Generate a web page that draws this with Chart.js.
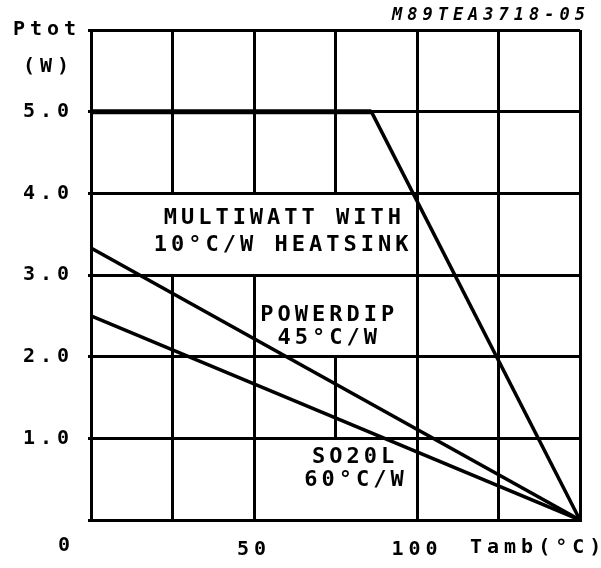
<!DOCTYPE html>
<html>
<head>
<meta charset="utf-8">
<script src="https://cdn.jsdelivr.net/npm/chart.js@4.4.0/dist/chart.umd.min.js"></script>
<style>
  html, body { margin: 0; padding: 0; background: #fff; }
</style>
</head>
<body>
<canvas id="chart" width="601" height="568"></canvas>
<script>
// ambient temperature (°C) / power (W) pairs for each curve
const multiwattT = [0, 86, 150];
const multiwattP = [5, 5, 0];
const powerdipT = [0, 150];
const powerdipP = [3.33, 0];
const so20lT = [0, 150];
const so20lP = [2.5, 0];

// which ticks get a label
const xLabelled = [50, 100];
const yLabelled = [1, 2, 3, 4, 5];

// grid segments that are blank on the original (x value, from y, to y)
const gapsInGrid = [[25, 3, 4], [50, 3, 4], [75, 3, 4], [75, 2, 3], [75, 0, 1]];

// curve captions, centred at (Tamb, Ptot)
const captions = [
  { text: "MULTIWATT WITH", x: 58.7, y: 3.69 },
  { text: "10°C/W HEATSINK", x: 58.3, y: 3.37 },
  { text: "POWERDIP", x: 72.5, y: 2.51 },
  { text: "45°C/W", x: 72.5, y: 2.23 },
  { text: "SO20L", x: 80.4, y: 0.77 },
  { text: "60°C/W", x: 80.7, y: 0.49 }
];

const FONT = '"DejaVu Sans Mono", monospace';

function pairs(xs, ys) {
  return xs.map((x, i) => ({ x: x, y: ys[i] }));
}

function curve(xs, ys) {
  return {
    data: pairs(xs, ys),
    borderColor: "#000",
    borderWidth: 3.5,
    pointRadius: 0,
    tension: 0,
    fill: false,
    // flat part sits on a grid line and looks heavier there
    segment: {
      borderWidth: c => c.p0.parsed.y === c.p1.parsed.y ? 5 : 3.5
    }
  };
}

// same rounding Chart.js uses for a 3px grid line: returns first covered pixel
function lineStart(p) {
  return Math.round(p - 1.5);
}

const paper = {
  id: "paper",
  beforeDraw(chart) {
    const ctx = chart.ctx;
    ctx.fillStyle = "#fff";
    ctx.fillRect(0, 0, chart.width, chart.height);
    ctx.letterSpacing = "5px";
  },
  beforeDatasetsDraw(chart) {
    const ctx = chart.ctx;
    const sx = chart.scales.x, sy = chart.scales.y;
    ctx.save();
    ctx.fillStyle = "#fff";
    gapsInGrid.forEach(g => {
      const left = lineStart(sx.getPixelForValue(g[0]));
      const top = lineStart(sy.getPixelForValue(g[2])) + 3;
      const bottom = lineStart(sy.getPixelForValue(g[1]));
      ctx.fillRect(left - 1, top, 5, bottom - top);
    });
    ctx.restore();
  },
  afterDraw(chart) {
    const ctx = chart.ctx;
    const sx = chart.scales.x, sy = chart.scales.y;
    ctx.save();
    ctx.fillStyle = "#000";
    ctx.textBaseline = "middle";
    ctx.letterSpacing = "4px";
    ctx.textAlign = "center";
    ctx.font = "bold 22px " + FONT;
    captions.forEach(c => {
      ctx.fillText(c.text, sx.getPixelForValue(c.x) + 2, sy.getPixelForValue(c.y));
    });

    ctx.letterSpacing = "5px";
    ctx.font = "bold 20px " + FONT;
    ctx.textAlign = "left";
    ctx.fillText("Ptot", 13, 30);
    ctx.fillText("(W)", 23, 67);
    ctx.fillText("0", 58, 546);
    ctx.fillText("Tamb(°C)", 470, 548);

    ctx.font = "italic bold 17px " + FONT;
    ctx.textAlign = "right";
    ctx.fillText("M89TEA3718-05", 590, 16);
    ctx.restore();
  }
};

new Chart(document.getElementById("chart"), {
  type: "line",
  data: {
    datasets: [
      curve(multiwattT, multiwattP),
      curve(powerdipT, powerdipP),
      curve(so20lT, so20lP)
    ]
  },
  options: {
    responsive: false,
    devicePixelRatio: 1,
    animation: false,
    events: [],
    layout: { padding: { top: 30, right: 21, left: 0, bottom: 0 } },
    plugins: { legend: { display: false }, tooltip: { enabled: false } },
    scales: {
      x: {
        type: "linear",
        min: 0,
        max: 150,
        afterFit: s => { s.height = 48; },
        border: { color: "#000", width: 3 },
        grid: { color: "#000", lineWidth: 3, drawTicks: false },
        ticks: {
          stepSize: 25,
          autoSkip: false,
          maxRotation: 0,
          padding: 18,
          color: "#000",
          font: { family: FONT, size: 20, weight: "bold" },
          callback: v => xLabelled.includes(v) ? String(v) : ""
        }
      },
      y: {
        min: 0,
        max: 6,
        afterFit: s => { s.width = 91; },
        border: { color: "#000", width: 3 },
        grid: { color: "#000", lineWidth: 3, tickLength: 3 },
        ticks: {
          stepSize: 1,
          autoSkip: false,
          padding: 14,
          color: "#000",
          font: { family: FONT, size: 20, weight: "bold" },
          callback: v => yLabelled.includes(v) ? v.toFixed(1) : ""
        }
      }
    }
  },
  plugins: [paper]
});
</script>
</body>
</html>
